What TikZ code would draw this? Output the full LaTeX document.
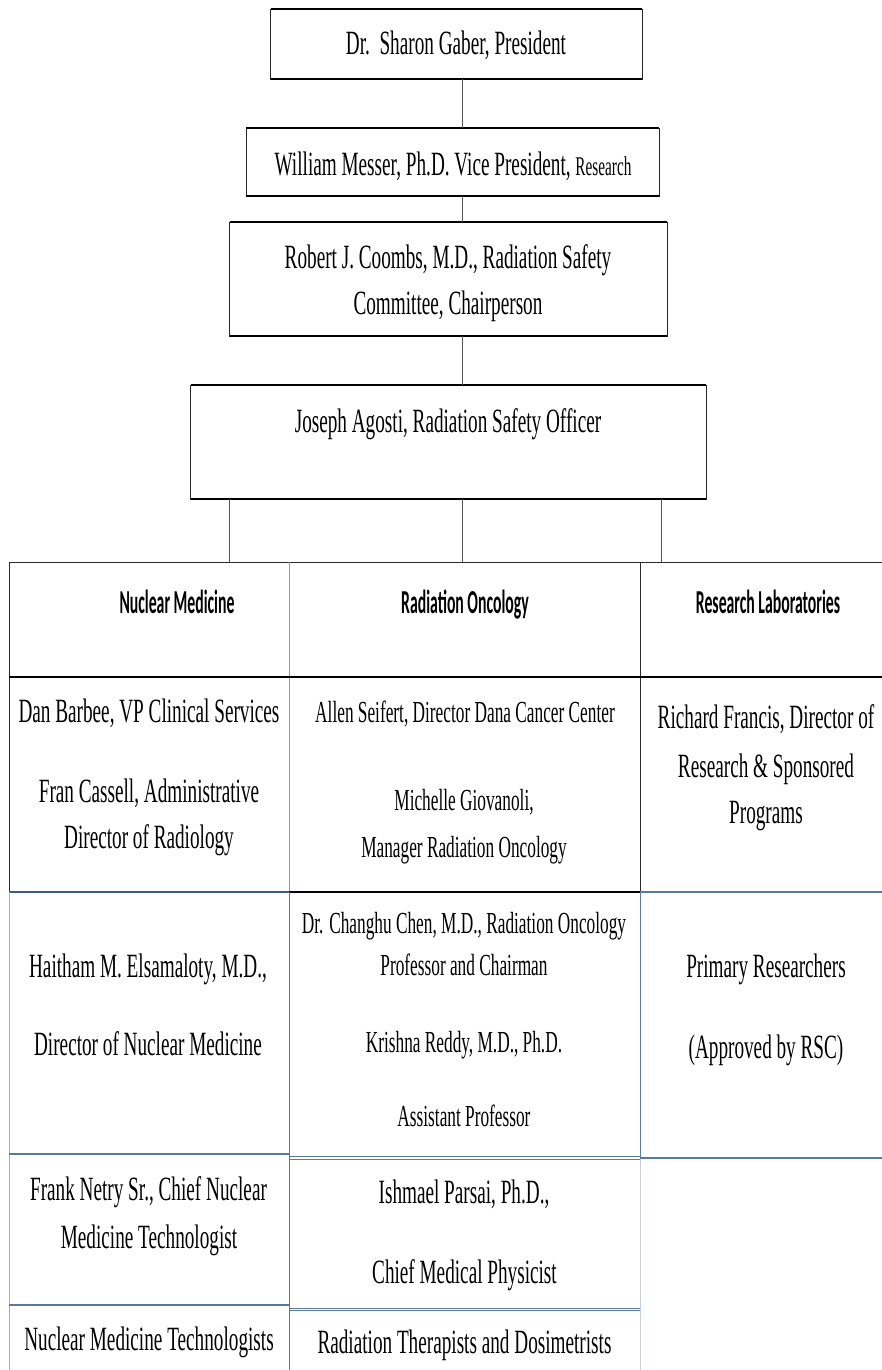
\documentclass[tikz,border=0pt]{standalone}
\usepackage{fontspec}
\setmainfont{Liberation Serif}[FakeStretch=0.565]
\newfontfamily\hdrfont{Carlito}[FakeStretch=0.47]
\definecolor{conn}{HTML}{555555}
\definecolor{tdark}{HTML}{2B2B2B}
\definecolor{tgray}{HTML}{999999}
\definecolor{bluedark}{HTML}{3E5A80}
\definecolor{bluemid}{HTML}{5A78A2}
\definecolor{bluelight}{HTML}{9DB0CB}
\definecolor{palegray}{HTML}{C8D2DE}
\begin{document}
\begin{tikzpicture}[x=1pt,y=-1pt,
  orgbox/.style={draw=black!85,line width=0.9pt,inner sep=0pt,outer sep=0pt},
  edgethick/.style={draw=black,line width=2.2pt},
  conline/.style={draw=conn,line width=1pt},
  txt/.style={anchor=base,inner sep=0pt,font=\fontsize{34}{40}\selectfont},
  txtsm/.style={anchor=base,inner sep=0pt,font=\fontsize{30.6}{36}\selectfont},
  hdr/.style={anchor=base,inner sep=0pt,font=\fontsize{33.5}{38}\selectfont\hdrfont\bfseries},
  rulethin/.style={line width=1pt},
]
\useasboundingbox (0,0) rectangle (882,1370);
\fill[white] (0,0) rectangle (882,1370);

% top boxes
\node[orgbox,minimum width=371.5pt,minimum height=70pt] (pres) at (456.25,44) {};
\node[orgbox,minimum width=413pt,minimum height=68pt] (vp) at (452.5,162) {};
\node[orgbox,minimum width=437.5pt,minimum height=114pt] (rsc) at (448.25,279) {};
\node[orgbox,minimum width=515.3pt,minimum height=114pt] (rso) at (448.35,442) {};
\foreach \b in {pres,vp,rsc,rso}{
  \draw[edgethick] (\b.north west) -- (\b.north east);
  \draw[edgethick] (\b.south west) -- (\b.south east);
}

% texts in boxes
\node[txt] (tpres) at (456,55) {Dr.~~Sharon Gaber, President};
\node[txt] (tvp) at (453,175) {William Messer, Ph.D. Vice President, {\fontsize{27}{30}\selectfont Research}};
\node[txt] (trsc1) at (448,268) {Robert J. Coombs, M.D., Radiation Safety};
\node[txt] (trsc2) at (448,314) {Committee, Chairperson};
\node[txt] (trso) at (448,432) {Joseph Agosti, Radiation Safety Officer};

% connectors
\coordinate (axis) at (462,0);
\draw[conline] (pres.south -| axis) -- (vp.north -| axis);
\draw[conline] (vp.south -| axis) -- (rsc.north -| axis);
\draw[conline] (rsc.south -| axis) -- (rso.north -| axis);
\coordinate (nmtop) at (229,562);
\coordinate (rotop) at (462,562);
\coordinate (rltop) at (661,562);
\draw[conline] (rso.south -| nmtop) -- (nmtop);
\draw[conline] (rso.south -| rotop) -- (rotop);
\draw[conline] (rso.south -| rltop) -- (rltop);

% table: header and second row
\draw[tdark,rulethin] (9,562) -- (882,562);
\draw[tdark,rulethin] (9,562) -- (9,892);
\draw[tgray,rulethin] (289,562) -- (289,892);
\draw[tdark,rulethin] (640,562) -- (640,892);
\draw[black,line width=1.8pt] (9,677) -- (882,677);
\draw[bluedark,line width=1.8pt] (9,892) -- (289,892);
\draw[black,line width=1.8pt] (289,892) -- (640,892);
\draw[bluemid,line width=1.4pt] (640,892) -- (882,892);
% lower rows
\draw[bluelight,rulethin] (9,892) -- (9,1370);
\draw[bluemid,rulethin] (289,892) -- (289,1370);
\draw[bluemid,rulethin] (640,892) -- (640,1158);
\draw[palegray,rulethin] (640,1158) -- (640,1370);
\draw[bluemid,line width=2pt] (9,1154) -- (289,1154);
\draw[bluemid,rulethin] (289,1156) -- (640,1156);
\draw[bluemid,rulethin] (289,1159.5) -- (640,1159.5);
\draw[bluemid,line width=1.3pt] (640,1158) -- (882,1158);
\draw[bluemid,line width=1.8pt] (9,1305) -- (289,1305);
\draw[bluemid,rulethin] (289,1308) -- (640,1308);
\draw[bluemid,rulethin] (289,1310.5) -- (640,1310.5);

% headers
\node[hdr] (hnm) at (177,613) {Nuclear Medicine};
\node[hdr] (hro) at (465,613) {Radiation Oncology};
\node[hdr] (hrl) at (768,613) {Research Laboratories};

% row 2
\node[txt] (c21a) at (149,722) {Dan Barbee, VP Clinical Services};
\node[txt] (c21b) at (149,802) {Fran Cassell, Administrative};
\node[txt] (c21c) at (149,848) {Director of Radiology};
\node[txtsm] (c22a) at (465,722) {Allen Seifert, Director Dana Cancer Center};
\node[txtsm] (c22b) at (464,810) {Michelle Giovanoli,};
\node[txtsm] (c22c) at (464,857) {Manager Radiation Oncology};
\node[txt] (c23a) at (766,728) {Richard Francis, Director of};
\node[txt] (c23b) at (766,777) {Research \& Sponsored};
\node[txt] (c23c) at (766,823) {Programs};

% row 3
\node[txt] (c31a) at (148,977) {Haitham M. Elsamaloty, M.D.,};
\node[txt] (c31b) at (148,1055) {Director of Nuclear Medicine};
\node[txtsm] (c32a) at (464,933) {Dr. Changhu Chen, M.D., Radiation Oncology};
\node[txtsm] (c32b) at (464,975) {Professor and Chairman};
\node[txtsm] (c32c) at (464,1052) {Krishna Reddy, M.D., Ph.D.};
\node[txtsm] (c32d) at (464,1126) {Assistant Professor};
\node[txt] (c33a) at (766,977) {Primary Researchers};
\node[txt] (c33b) at (766,1058) {(Approved by RSC)};

% row 4
\node[txt] (c41a) at (148.5,1200) {Frank Netry Sr., Chief Nuclear};
\node[txt] (c41b) at (149,1248) {Medicine Technologist};
\node[txt] (c42a) at (464,1203) {Ishmael Parsai, Ph.D.,};
\node[txt] (c42b) at (464.5,1283) {Chief Medical Physicist};

% row 5
\node[txt] (c51) at (149,1350) {Nuclear Medicine Technologists};
\node[txt] (c52) at (464.5,1353) {Radiation Therapists and Dosimetrists};
\end{tikzpicture}
\end{document}
